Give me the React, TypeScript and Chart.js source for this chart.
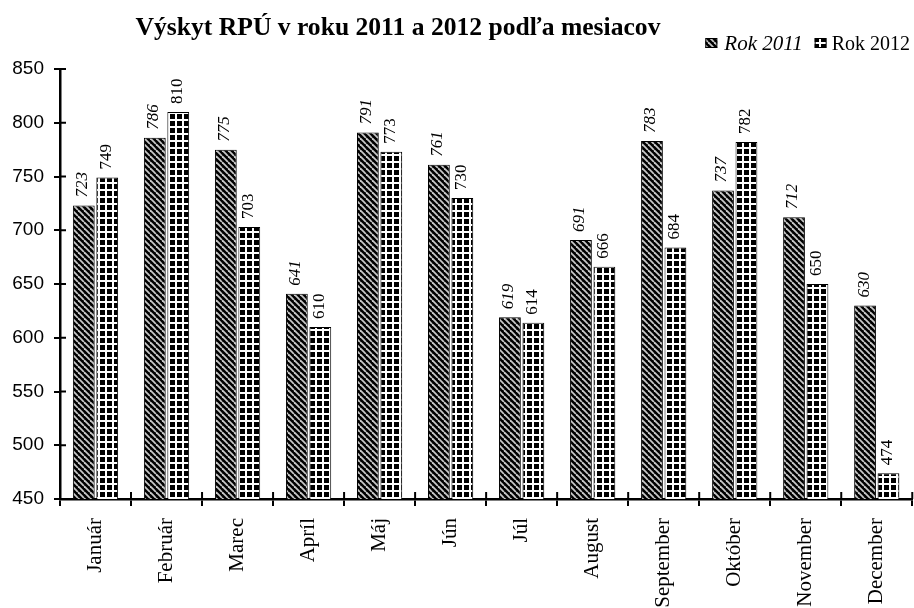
import React, { useEffect, useRef } from "react";
import { Chart, registerables } from "chart.js";

Chart.register(...registerables);

const TITLE = "Výskyt RPÚ v roku 2011 a 2012 podľa mesiacov";
const MONTHS = ["Január", "Február", "Marec", "Apríl", "Máj", "Jún", "Júl", "August", "September", "Október", "November", "December"];
const SERIES_NAMES = ["Rok 2011", "Rok 2012"];
const VALUES_2011 = [723, 786, 775, 641, 791, 761, 619, 691, 783, 737, 712, 630];
const VALUES_2012 = [749, 810, 703, 610, 773, 730, 614, 666, 684, 782, 650, 474];
const Y_MIN = 450;
const Y_MAX = 850;
const Y_STEP = 50;

const SERIF = '"Liberation Serif", "Times New Roman", serif';
const SANS = '"Liberation Sans", Arial, sans-serif';

function makeDiagonal(): CanvasPattern | string {
  const s = 6;
  const c = document.createElement("canvas");
  c.width = s;
  c.height = s;
  const g = c.getContext("2d");
  if (!g) return "#333";
  g.fillStyle = "#000";
  g.fillRect(0, 0, s, s);
  g.strokeStyle = "#c8c8c8";
  g.lineWidth = 1.8;
  for (let k = -1; k <= 1; k++) {
    g.beginPath();
    g.moveTo(k * s, 0);
    g.lineTo(k * s + s, s);
    g.stroke();
  }
  return g.createPattern(c, "repeat") || "#333";
}

function makeGrid(): CanvasPattern | string {
  const s = 7;
  const c = document.createElement("canvas");
  c.width = s;
  c.height = s;
  const g = c.getContext("2d");
  if (!g) return "#333";
  g.fillStyle = "#000";
  g.fillRect(0, 0, s, s);
  g.fillStyle = "#fff";
  g.fillRect(0, 0, 2, s);
  g.fillRect(0, 0, s, 2);
  return g.createPattern(c, "repeat") || "#333";
}

export default function App() {
  const ref = useRef<HTMLCanvasElement | null>(null);

  useEffect(() => {
    if (!ref.current) return;
    const pDiag = makeDiagonal();
    const pGrid = makeGrid();
    const fills = [pDiag, pGrid];

    const overlay = {
      id: "overlay",
      afterDraw(chart: any) {
        const ctx = chart.ctx as CanvasRenderingContext2D;
        const area = chart.chartArea;
        const xs = chart.scales.x;
        const ys = chart.scales.y;
        ctx.save();
        // inner tick marks
        ctx.strokeStyle = "#000";
        ctx.lineWidth = 2;
        ys.ticks.forEach((_t: any, i: number) => {
          const py = ys.getPixelForTick(i);
          ctx.beginPath();
          ctx.moveTo(area.left, py);
          ctx.lineTo(area.left + 6, py);
          ctx.stroke();
        });
        const n = xs.ticks.length;
        const w = (xs.right - xs.left) / n;
        for (let i = 0; i <= n; i++) {
          const px = xs.left + i * w;
          ctx.beginPath();
          ctx.moveTo(px, area.bottom);
          ctx.lineTo(px, area.bottom - 7);
          ctx.stroke();
        }
        // value labels
        ctx.fillStyle = "#000";
        chart.data.datasets.forEach((ds: any, di: number) => {
          const meta = chart.getDatasetMeta(di);
          meta.data.forEach((bar: any, i: number) => {
            ctx.save();
            ctx.translate(bar.x - 1, bar.y - 8);
            ctx.rotate(-Math.PI / 2);
            ctx.font = (di === 0 ? "italic " : "") + "17px " + SERIF;
            ctx.textAlign = "left";
            ctx.textBaseline = "middle";
            ctx.fillText(String(ds.data[i]), 0, 0);
            ctx.restore();
          });
        });
        // title
        ctx.font = "bold 25.6px " + SERIF;
        ctx.textAlign = "center";
        ctx.textBaseline = "alphabetic";
        ctx.fillText(TITLE, 398, 35);
        // legend
        ctx.textAlign = "left";
        const f2 = "20px " + SERIF;
        const f1 = "italic 21px " + SERIF;
        ctx.font = f2;
        const w2 = ctx.measureText(SERIES_NAMES[1]).width;
        ctx.font = f1;
        const w1 = ctx.measureText(SERIES_NAMES[0]).width;
        const t2x = 910 - w2;
        const b2x = t2x - 17;
        const t1x = b2x - 12 - w1;
        const b1x = t1x - 19;
        const by = 38;
        [b1x, b2x].forEach((bx, k) => {
          ctx.fillStyle = fills[k] as any;
          ctx.fillRect(bx, by, 12, 10);
          ctx.strokeStyle = "#000";
          ctx.lineWidth = 1;
          ctx.strokeRect(bx + 0.5, by + 0.5, 11, 9);
        });
        ctx.fillStyle = "#000";
        ctx.font = f1;
        ctx.fillText(SERIES_NAMES[0], t1x, 50);
        ctx.font = f2;
        ctx.fillText(SERIES_NAMES[1], t2x, 50);
        ctx.restore();
      },
    };

    const chart = new Chart(ref.current, {
      type: "bar",
      data: {
        labels: MONTHS,
        datasets: [
          {
            label: SERIES_NAMES[0],
            data: VALUES_2011,
            backgroundColor: pDiag as any,
            borderColor: "#000",
            borderWidth: 1,
            categoryPercentage: 0.66,
            barPercentage: 0.93,
          },
          {
            label: SERIES_NAMES[1],
            data: VALUES_2012,
            backgroundColor: pGrid as any,
            borderColor: "#000",
            borderWidth: 1,
            categoryPercentage: 0.66,
            barPercentage: 0.93,
          },
        ],
      },
      options: {
        animation: false,
        responsive: true,
        maintainAspectRatio: false,
        layout: { padding: { top: 69, right: 1, left: 0, bottom: 0 } },
        plugins: {
          legend: { display: false },
          title: { display: false },
          tooltip: { enabled: false },
        },
        scales: {
          x: {
            grid: {
              display: true,
              drawOnChartArea: false,
              drawTicks: true,
              tickLength: 7,
              color: "#000",
              lineWidth: 2,
              offset: true,
            },
            border: { display: true, color: "#000", width: 2.5 },
            ticks: {
              color: "#000",
              font: { family: SERIF, size: 21 },
              maxRotation: 90,
              minRotation: 90,
              padding: 12,
              autoSkip: false,
            },
            afterFit: (scale: any) => {
              scale.height = 109;
            },
          },
          y: {
            min: Y_MIN,
            max: Y_MAX,
            grid: {
              display: true,
              drawOnChartArea: false,
              drawTicks: true,
              tickLength: 6,
              color: "#000",
              lineWidth: 2,
            },
            border: { display: true, color: "#000", width: 2.5 },
            ticks: {
              stepSize: Y_STEP,
              color: "#000",
              font: { family: SANS, size: 19 },
              padding: 10,
            },
            afterFit: (scale: any) => {
              scale.width = 60;
            },
          },
        },
      },
      plugins: [overlay],
    });
    return () => chart.destroy();
  }, []);

  return (
    <div style={{ position: "fixed", left: 0, top: 0, width: 914, height: 608, background: "#fff" }}>
      <canvas ref={ref} />
    </div>
  );
}
